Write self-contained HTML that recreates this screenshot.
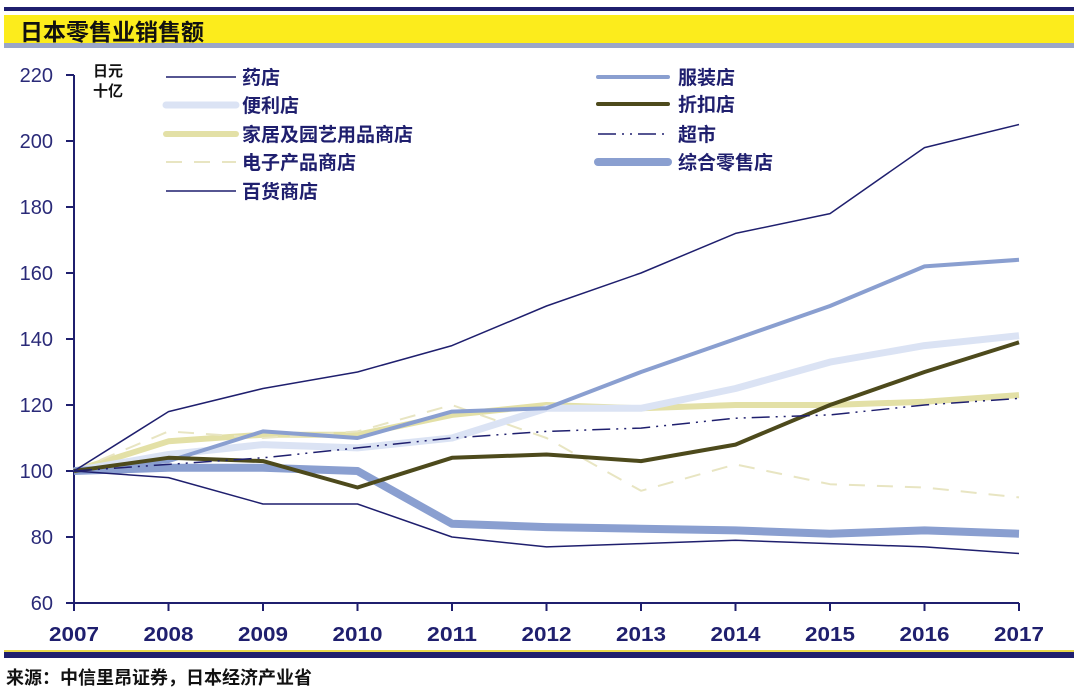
<!DOCTYPE html>
<html><head><meta charset="utf-8">
<style>
body{margin:0;background:#fff;width:1080px;height:695px;overflow:hidden;font-family:"Liberation Sans","Noto Sans CJK SC",sans-serif;}
</style></head>
<body>
<svg width="1080" height="695" xmlns="http://www.w3.org/2000/svg" style="position:absolute;left:0;top:0" font-family="Liberation Sans, Noto Sans CJK SC, sans-serif">
<rect x="4" y="7" width="1070" height="4" fill="#1f1f6e"/>
<rect x="4" y="15" width="1070" height="29" fill="#fcec1c"/>
<rect x="4" y="43" width="1070" height="5" fill="#9aa6c8"/>
<text x="20" y="40" font-size="23" font-weight="bold" fill="#111">日本零售业销售额</text>
<g id="axes"></g>
<g id="series"></g>
<g id="legend"></g>
<rect x="4" y="650" width="1070" height="2" fill="#e8d84a"/>
<rect x="4" y="652" width="1070" height="6" fill="#1f1f6e"/>
<text x="6" y="684" font-size="18" font-weight="bold" fill="#111">来源：中信里昂证券，日本经济产业省</text>
</svg>
<script>
const years=[2007,2008,2009,2010,2011,2012,2013,2014,2015,2016,2017];
const yTicks=[60,80,100,120,140,160,180,200,220];
const drug=[100,118,125,130,138,150,160,172,178,198,205];
const apparel=[100,103,112,110,118,119,130,140,150,162,164];
const conv=[100,105,108,107,110,119,119,125,133,138,141];
const discount=[100,104,103,95,104,105,103,108,120,130,139];
const home=[100,109,111,111,117,120,119,120,120,121,123];
const supermkt=[100,102,104,107,110,112,113,116,117,120,122];
const electronics=[100,112,110,112,120,110,94,102,96,95,92];
const general=[100,101,101,100,84,83,82.5,82,81,82,81];
const dept=[100,98,90,90,80,77,78,79,78,77,75];
const NS="http://www.w3.org/2000/svg";
const X=i=>74+i*(1019-74)/(years.length-1);
const Y=v=>603-(v-60)*(603-75)/160;
function mk(t,a,p){const e=document.createElementNS(NS,t);for(const k in a)e.setAttribute(k,a[k]);p.appendChild(e);return e;}
const ax=document.getElementById('axes');
let l=mk('line',{x1:74,y1:Y(220),x2:74,y2:603,stroke:'#1f1f6e','stroke-width':2},ax);

l=mk('line',{x1:74,y1:603,x2:1019,y2:603,stroke:'#1f1f6e','stroke-width':2},ax);

yTicks.forEach(v=>{mk('line',{x1:66,y1:Y(v),x2:74,y2:Y(v),stroke:'#1f1f6e','stroke-width':2},ax);
const t=mk('text',{x:53,y:Y(v)+7,'font-size':20,fill:'#2a2a78','text-anchor':'end'},ax);t.textContent=v;
});
years.forEach((yr,i)=>{mk('line',{x1:X(i),y1:603,x2:X(i),y2:611,stroke:'#1f1f6e','stroke-width':2},ax);
const t=mk('text',{x:X(i),y:641,'font-size':20,fill:'#1f1f6e','text-anchor':'middle','font-weight':'bold',textLength:50,lengthAdjust:'spacingAndGlyphs'},ax);t.textContent=yr;
});
let u=mk('text',{x:93,y:76,'font-size':15,'font-weight':'bold',fill:'#111'},ax);u.textContent='日元';

u=mk('text',{x:93,y:96,'font-size':15,'font-weight':'bold',fill:'#111'},ax);u.textContent='十亿';

const S=[
 {n:'家居及园艺用品商店',d:home,c:'#e3e0a6',w:6,lx:163,ly:134},
 {n:'电子产品商店',d:electronics,c:'#e8e5c2',w:2,da:'16,12',lx:163,ly:162},
 {n:'便利店',d:conv,c:'#dbe3f4',w:7,lx:163,ly:105},
 {n:'服装店',d:apparel,c:'#8a9fd0',w:4,lx:595,ly:77},
 {n:'综合零售店',d:general,c:'#8a9fd0',w:8,lx:595,ly:162},
 {n:'折扣店',d:discount,c:'#4d4a1c',w:4,lx:595,ly:104},
 {n:'超市',d:supermkt,c:'#1f1f6e',w:1.5,da:'18,6,2,6,2,6',lx:595,ly:134},
 {n:'药店',d:drug,c:'#1f1f6e',w:1.5,lx:163,ly:77},
 {n:'百货商店',d:dept,c:'#1f1f6e',w:1.5,lx:163,ly:191}
];
const sg=document.getElementById('series'),lg=document.getElementById('legend');
S.forEach((s,k)=>{
 const p=mk('polyline',{points:s.d.map((v,i)=>X(i)+','+Y(v)).join(' '),fill:'none',stroke:s.c,'stroke-width':s.w,'stroke-linejoin':'round','stroke-dasharray':s.da||'none'},sg);
 
 
 const ll=mk('line',{x1:s.lx+3,y1:s.ly,x2:s.lx+73,y2:s.ly,stroke:s.c,'stroke-width':s.w,'stroke-linecap':s.w>3?'round':'butt','stroke-dasharray':s.da||'none'},lg);
 
 
 const t=mk('text',{x:s.lx<300?242:678,y:s.ly+7,'font-size':19,'font-weight':'bold',fill:'#1f1f6e'},lg);
 t.textContent=s.n;
 
 
});
</script>
</body></html>
